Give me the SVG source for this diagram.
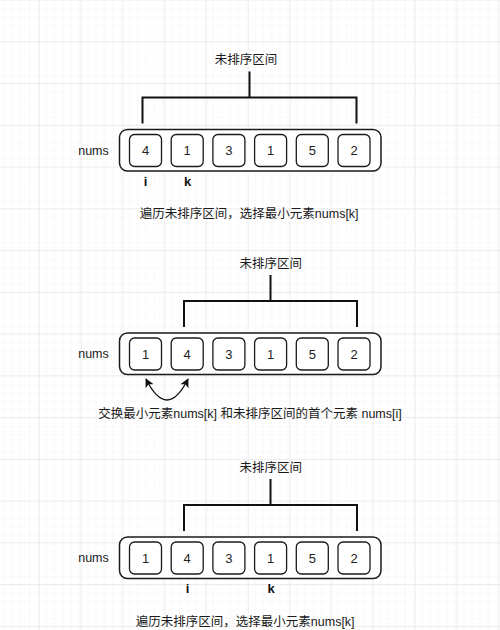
<svg xmlns="http://www.w3.org/2000/svg" width="500" height="630" viewBox="0 0 500 630">
<defs>
<pattern id="minor" x="-1.75" y="0.5" width="8.35" height="8.35" patternUnits="userSpaceOnUse">
<path d="M8.35 0V8.35M0 8.35H8.35" fill="none" stroke="#f3f3f3" stroke-width="1"/>
</pattern>
<pattern id="major" x="-1.75" y="0.5" width="41.75" height="41.75" patternUnits="userSpaceOnUse">
<rect width="41.75" height="41.75" fill="url(#minor)"/>
<path d="M41.75 0V41.75M0 41.75H41.75" fill="none" stroke="#dedede" stroke-width="1"/>
</pattern>
<marker id="ah" viewBox="0 0 10 10" refX="9" refY="5" markerWidth="9" markerHeight="9" markerUnits="userSpaceOnUse" orient="auto-start-reverse">
<path d="M0 0L10 5L0 10L2.5 5Z" fill="#111"/>
</marker>
</defs>
<style>
.t{font-family:"Liberation Sans","Noto Sans CJK SC",sans-serif;font-size:12.5px;fill:#1a1a1a}
.n{font-family:"Liberation Sans","Noto Sans CJK SC",sans-serif;font-size:13px;fill:#222;text-anchor:middle}
.b{font-family:"Liberation Sans",sans-serif;font-size:13px;font-weight:bold;fill:#111;text-anchor:middle}
.m{text-anchor:middle}
.outer{fill:#fff;stroke:#1a1a1a;stroke-width:1.5}
.cell{fill:#fff;stroke:#1a1a1a;stroke-width:1.3}
.br{fill:none;stroke:#111;stroke-width:2}
.cv{fill:none;stroke:#111;stroke-width:1.3}
</style>
<rect width="500" height="630" fill="#fff"/>
<rect width="500" height="630" fill="url(#major)"/>

<g id="connectors">
<path class="br" d="M249.5 71.5V97.5M142.5 123.5V97.5H356.5V123.5"/>
<path class="br" d="M270.5 275V301M184 327V301H357V327"/>
<path class="br" d="M270.5 479V505M184 531V505H357V531"/>
<path class="cv" d="M146 379Q167 421 188 379" marker-start="url(#ah)" marker-end="url(#ah)"/>
</g>

<g id="step1">
<text class="t m" x="246" y="64">未排序区间</text>
<text class="t m" x="93.5" y="154.5">nums</text>
<rect class="outer" x="119.5" y="129.5" width="261.5" height="41.5" rx="8"/>
<g id="s1cells">
<rect class="cell" x="129.5" y="134.5" width="32" height="32" rx="5"/>
<rect class="cell" x="171.2" y="134.5" width="32" height="32" rx="5"/>
<rect class="cell" x="212.9" y="134.5" width="32" height="32" rx="5"/>
<rect class="cell" x="254.6" y="134.5" width="32" height="32" rx="5"/>
<rect class="cell" x="296.3" y="134.5" width="32" height="32" rx="5"/>
<rect class="cell" x="338" y="134.5" width="32" height="32" rx="5"/>
<text class="n" x="145.5" y="155">4</text>
<text class="n" x="187.2" y="155">1</text>
<text class="n" x="228.9" y="155">3</text>
<text class="n" x="270.6" y="155">1</text>
<text class="n" x="312.3" y="155">5</text>
<text class="n" x="354" y="155">2</text>
</g>
<text class="b" x="145.5" y="186.3">i</text>
<text class="b" x="187.5" y="186.3">k</text>
<text class="t m" x="249.2" y="217.7">遍历未排序区间，选择最小元素nums[k]</text>
</g>

<g id="step2">
<text class="t m" x="270.8" y="268">未排序区间</text>
<text class="t m" x="93.5" y="358">nums</text>
<rect class="outer" x="119.5" y="333" width="261.5" height="41.5" rx="8"/>
<g id="s2cells">
<rect class="cell" x="129.5" y="338" width="32" height="32" rx="5"/>
<rect class="cell" x="171.2" y="338" width="32" height="32" rx="5"/>
<rect class="cell" x="212.9" y="338" width="32" height="32" rx="5"/>
<rect class="cell" x="254.6" y="338" width="32" height="32" rx="5"/>
<rect class="cell" x="296.3" y="338" width="32" height="32" rx="5"/>
<rect class="cell" x="338" y="338" width="32" height="32" rx="5"/>
<text class="n" x="145.5" y="358.5">1</text>
<text class="n" x="187.2" y="358.5">4</text>
<text class="n" x="228.9" y="358.5">3</text>
<text class="n" x="270.6" y="358.5">1</text>
<text class="n" x="312.3" y="358.5">5</text>
<text class="n" x="354" y="358.5">2</text>
</g>
<text class="t m" x="250" y="418">交换最小元素nums[k] 和未排序区间的首个元素 nums[i]</text>
</g>

<g id="step3">
<text class="t m" x="270.8" y="471.5">未排序区间</text>
<text class="t m" x="93.5" y="562">nums</text>
<rect class="outer" x="119.5" y="537" width="261.5" height="41.5" rx="8"/>
<g id="s3cells">
<rect class="cell" x="129.5" y="542" width="32" height="32" rx="5"/>
<rect class="cell" x="171.2" y="542" width="32" height="32" rx="5"/>
<rect class="cell" x="212.9" y="542" width="32" height="32" rx="5"/>
<rect class="cell" x="254.6" y="542" width="32" height="32" rx="5"/>
<rect class="cell" x="296.3" y="542" width="32" height="32" rx="5"/>
<rect class="cell" x="338" y="542" width="32" height="32" rx="5"/>
<text class="n" x="145.5" y="562.5">1</text>
<text class="n" x="187.2" y="562.5">4</text>
<text class="n" x="228.9" y="562.5">3</text>
<text class="n" x="270.6" y="562.5">1</text>
<text class="n" x="312.3" y="562.5">5</text>
<text class="n" x="354" y="562.5">2</text>
</g>
<text class="b" x="187.5" y="593">i</text>
<text class="b" x="271" y="593">k</text>
<text class="t m" x="245.2" y="626.3">遍历未排序区间，选择最小元素nums[k]</text>
</g>
</svg>
